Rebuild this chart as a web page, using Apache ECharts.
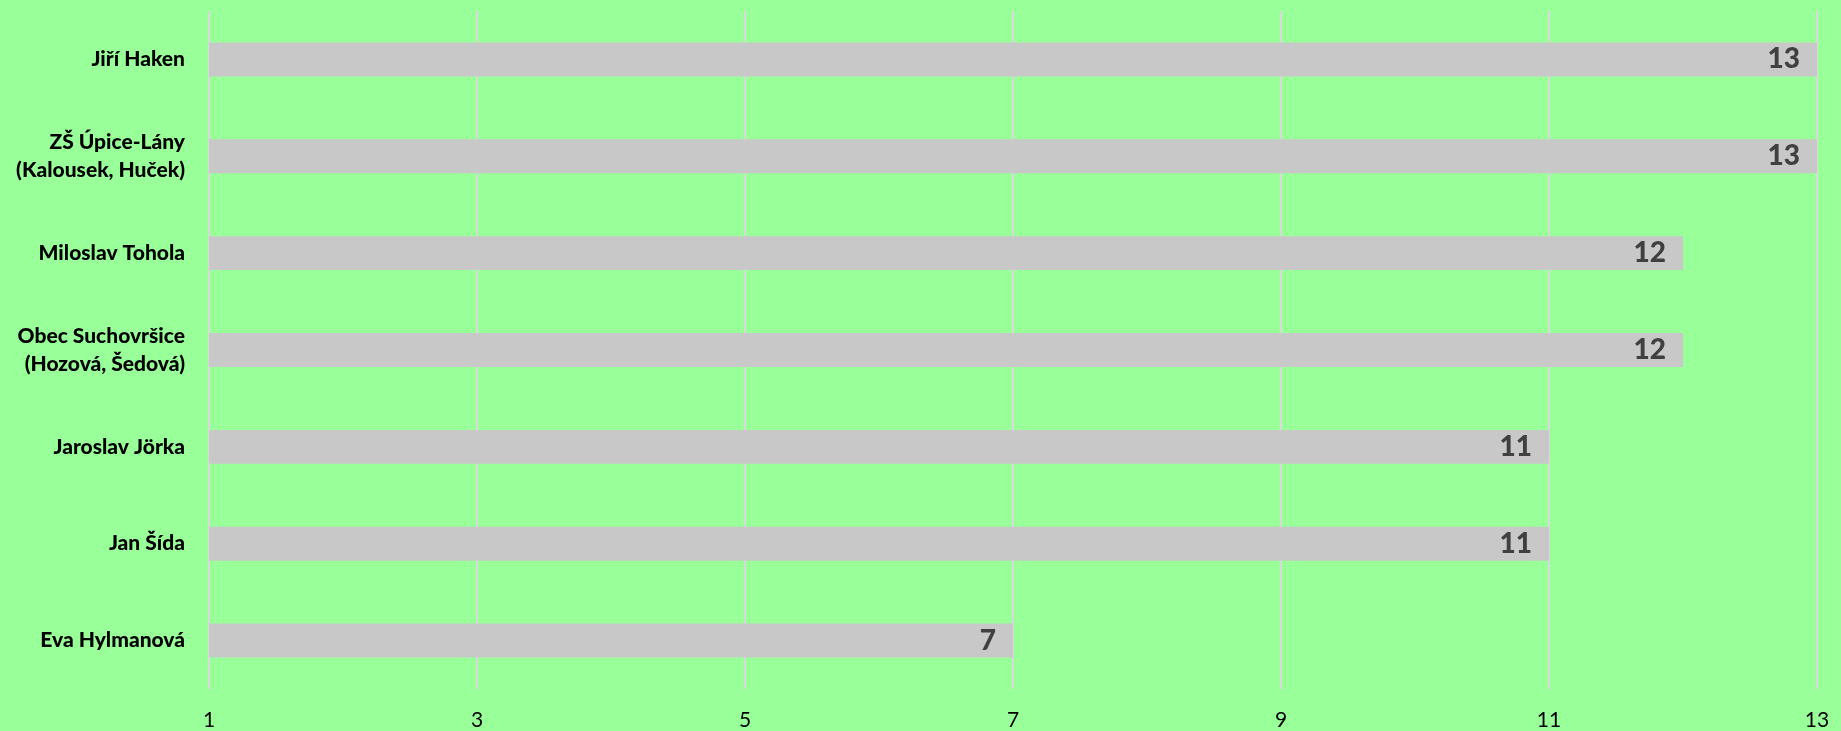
<!DOCTYPE html>
<html>
<head>
<meta charset="utf-8">
<script src="https://cdn.jsdelivr.net/npm/echarts@6/dist/echarts.min.js"></script>
<style>
html,body{margin:0;padding:0;background:#99FF99;}
#chart{width:1841px;height:731px;}
</style>
</head>
<body>
<div id="chart"></div>
<script>
const categories = ["Jiří Haken", "ZŠ Úpice-Lány\n(Kalousek, Huček)", "Miloslav Tohola", "Obec Suchovršice\n(Hozová, Šedová)", "Jaroslav Jörka", "Jan Šída", "Eva Hylmanová"];
const values = [13, 13, 12, 12, 11, 11, 7];
const axisMin = 1, axisMax = 13, axisStep = 2;

const chart = echarts.init(document.getElementById('chart'));
chart.setOption({
  backgroundColor: '#99FF99',
  animation: false,
  grid: {left: 209, right: 24, top: 11, bottom: 42, containLabel: false},
  xAxis: {
    type: 'value', min: axisMin, max: axisMax, interval: axisStep,
    axisLine: {show: false}, axisTick: {show: false},
    splitLine: {show: true, lineStyle: {color: '#D9D9D9', width: 2}},
    axisLabel: {color: '#000', fontFamily: 'Lato', fontSize: 21, margin: 21}
  },
  yAxis: {
    type: 'category', data: categories, inverse: true,
    axisLine: {show: false}, axisTick: {show: false},
    axisLabel: {color: '#000', fontFamily: 'Lato', fontWeight: 900, fontSize: 21, lineHeight: 28, margin: 24, align: 'right'}
  },
  series: [{
    type: 'bar', data: values, barWidth: '35%',
    itemStyle: {color: '#C8C8C8'},
    label: {show: true, position: 'insideRight', distance: 17, color: '#404040', fontFamily: 'Lato', fontWeight: 900, fontSize: 28}
  }]
});
</script>
</body>
</html>
